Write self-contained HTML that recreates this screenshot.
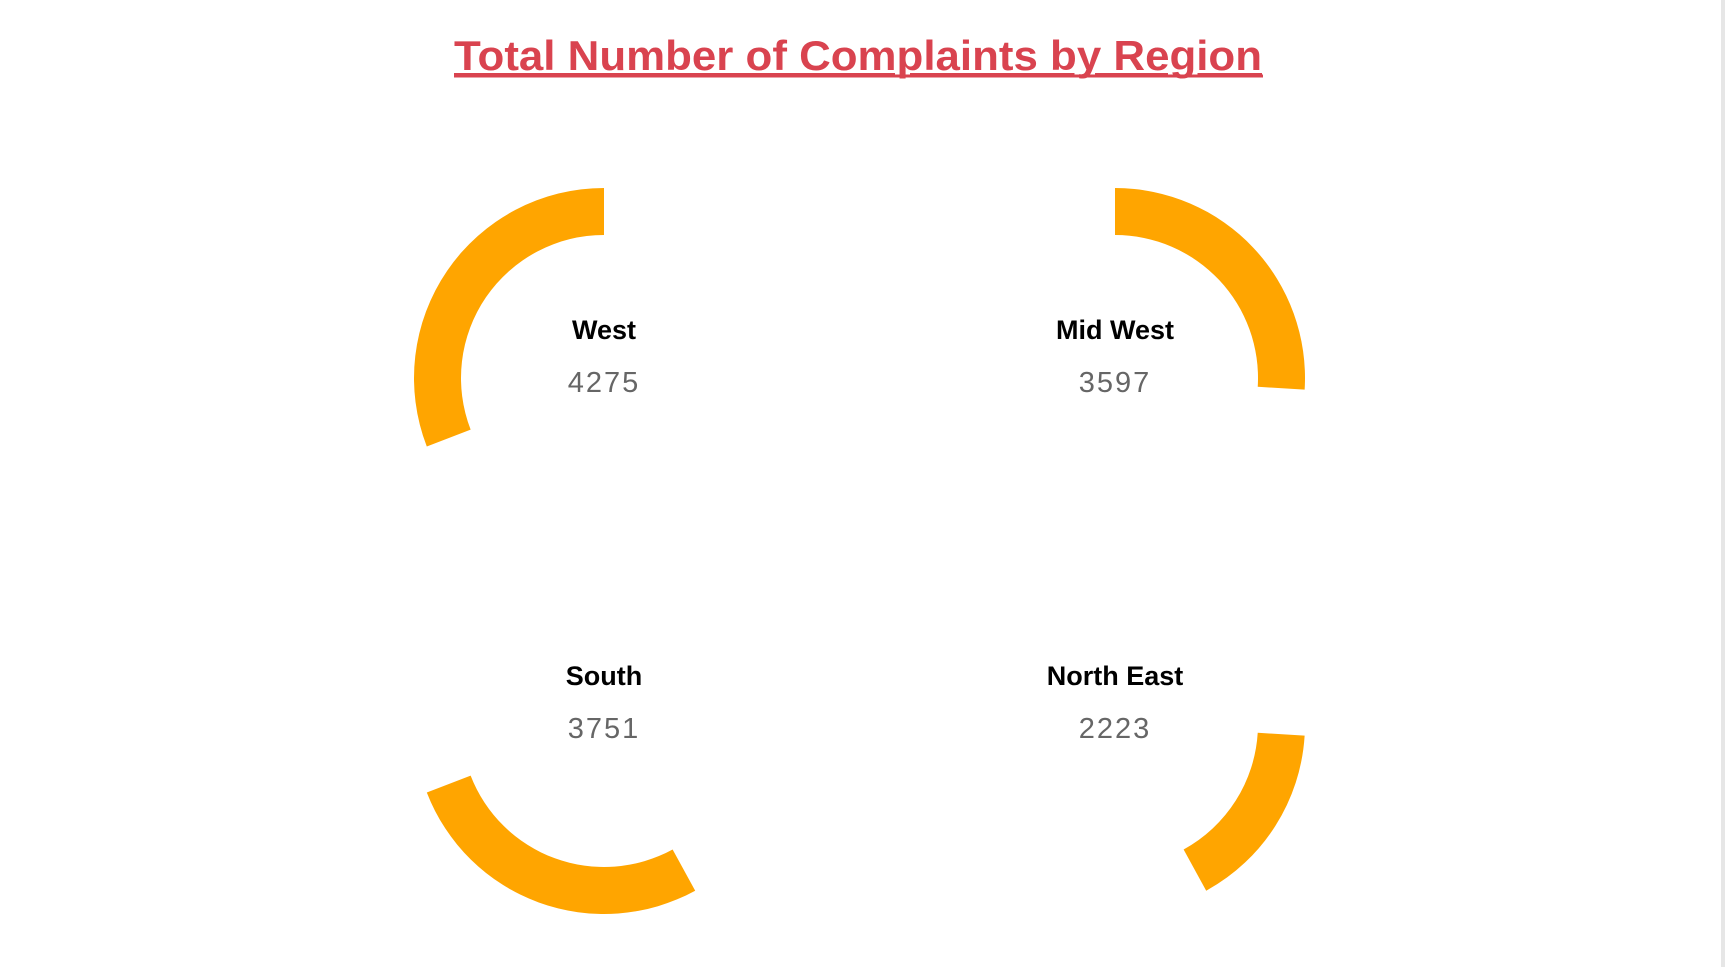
<!DOCTYPE html>
<html><head><meta charset="utf-8"><style>
body{margin:0;background:#fff;width:1725px;height:967px;overflow:hidden;font-family:"Liberation Sans",sans-serif}
</style></head><body>
<svg id="chart" width="1725" height="967" xmlns="http://www.w3.org/2000/svg">
<rect x="1721" y="0" width="4" height="967" fill="#e6e6e6"/>
<text x="858" y="70" text-anchor="middle" font-family="'Liberation Sans',sans-serif" font-weight="bold" font-size="42" fill="#d9434f" textLength="808" lengthAdjust="spacingAndGlyphs" text-decoration="underline">Total Number of Complaints by Region</text>
<line x1="454" y1="76" x2="1263" y2="76" stroke="#d9434f" stroke-width="3"/>
<g id="cards"></g>
</svg>
<script>
const regions=["Mid West","North East","South","West"];
const values=[3597,2223,3751,4275];
const centers={"West":[604,378],"Mid West":[1115,378],"South":[604,724],"North East":[1115,724]};
const total=values.reduce((a,b)=>a+b,0);
const R=190,r=143;
const g=document.getElementById('cards');
const NS="http://www.w3.org/2000/svg";
function pt(cx,cy,rad,deg){const a=deg*Math.PI/180;return [cx+rad*Math.sin(a),cy-rad*Math.cos(a)];}
let start=0;
regions.forEach((name,i)=>{
  const sweep=values[i]/total*360, end=start+sweep;
  const [cx,cy]=centers[name];
  const large=sweep>180?1:0;
  const p1=pt(cx,cy,R,start),p2=pt(cx,cy,R,end),p3=pt(cx,cy,r,end),p4=pt(cx,cy,r,start);
  const path=document.createElementNS(NS,'path');
  path.setAttribute('d',`M${p1[0]},${p1[1]} A${R},${R} 0 ${large} 1 ${p2[0]},${p2[1]} L${p3[0]},${p3[1]} A${r},${r} 0 ${large} 0 ${p4[0]},${p4[1]} Z`);
  path.setAttribute('fill','#FFA500');
  
  
  g.appendChild(path);
  const t=document.createElementNS(NS,'text');
  t.setAttribute('x',cx);t.setAttribute('y',cy-39);
  t.setAttribute('text-anchor','middle');t.setAttribute('font-weight','bold');
  t.setAttribute('font-size','27');t.setAttribute('fill','#000');
  t.textContent=name;
  
  
  g.appendChild(t);
  const v=document.createElementNS(NS,'text');
  v.setAttribute('x',cx);v.setAttribute('y',cy+14);
  v.setAttribute('text-anchor','middle');
  v.setAttribute('font-size','29');v.setAttribute('fill','#666');v.setAttribute('letter-spacing','2');
  v.textContent=values[i];
  
  
  g.appendChild(v);
  start=end;
});
</script>
</body></html>
